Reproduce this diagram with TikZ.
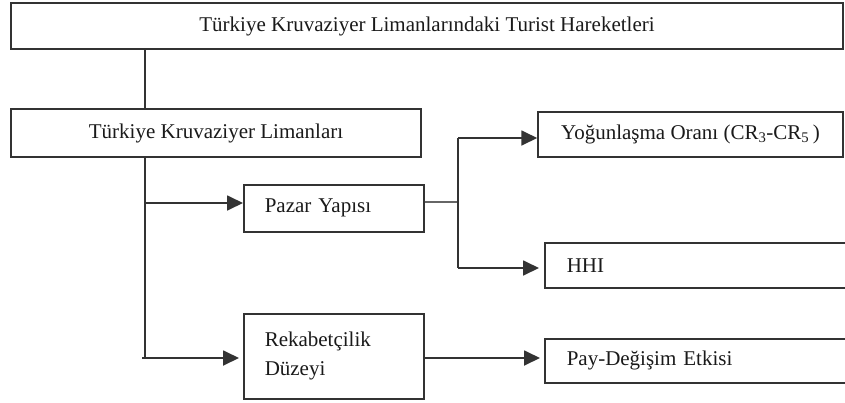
\documentclass[tikz,border=0pt]{standalone}
\usepackage{fontspec}
\setmainfont{Liberation Serif}
\usetikzlibrary{arrows.meta}
\definecolor{lincol}{HTML}{333333}
\definecolor{txtcol}{HTML}{1A1A1A}
\tikzset{
  box/.style={draw=lincol, line width=1.5pt, rectangle, inner ysep=0pt, text=txtcol,
    font=\fontsize{21}{29}\selectfont},
  conn/.style={draw=lincol, line width=1.8pt},
  arr/.style={conn, -{Triangle[length=16pt,width=15pt]}},
  thin/.style={draw=lincol!75, line width=1.4pt}
}
\begin{document}
\begin{tikzpicture}[x=1pt,y=1pt]
\clip (0,0) rectangle (845,-402);
\fill[white] (0,0) rectangle (845,-402);

\node[box, minimum width=832pt, minimum height=46pt] (top) at (427,-26) {Türkiye Kruvaziyer Limanlarındaki Turist Hareketleri};
\node[box, minimum width=410pt, minimum height=48pt] (lim) at (216,-133) {Türkiye Kruvaziyer Limanları};
\node[box, anchor=north west, minimum height=47pt, text width=138pt, inner xsep=21pt, align=left] (pazar) at (243,-184) {Pazar Yapısı};
\node[box, anchor=north west, minimum height=85pt, text width=138pt, inner xsep=21pt, align=left] (rek) at (243,-313) {Rekabetçilik\\Düzeyi};
\node[box, minimum width=305pt, minimum height=45pt] (yog) at (690.5,-134.5) {Yoğunlaşma Oranı (CR\textsubscript{3}-CR\textsubscript{5}\,)};
\node[box, anchor=north west, minimum height=45pt, text width=272pt, inner xsep=22pt, align=left] (hhi) at (544,-242) {HHI};
\node[box, anchor=north west, minimum height=44pt, text width=272pt, inner xsep=22pt, align=left] (pay) at (544,-338) {Pay-Değişim Etkisi};

\coordinate (v1) at (145,-358);
\coordinate (j1) at (145,-203);
\coordinate (s1) at (142,-358);
\coordinate (h) at (458,-202);
\coordinate (h1) at (458,-138);
\coordinate (h2) at (458,-268);

\draw[conn] (top.south -| v1) -- (lim.north -| v1);
\draw[conn] (lim.south -| v1) -- (v1);
\draw[arr] (j1) -- (j1 -| pazar.west);
\draw[arr] (s1) -- ([xshift=-4pt]v1 -| rek.west);
\draw[thin] (pazar.east |- h) -- (h);
\draw[conn] (h1) -- (h2);
\draw[arr] (h1) -- (h1 -| yog.west);
\draw[arr] (h2) -- ([xshift=-5pt]h2 -| hhi.west);
\draw[arr] (rek.east |- v1) -- ([xshift=-4pt]v1 -| pay.west);
\end{tikzpicture}
\end{document}
